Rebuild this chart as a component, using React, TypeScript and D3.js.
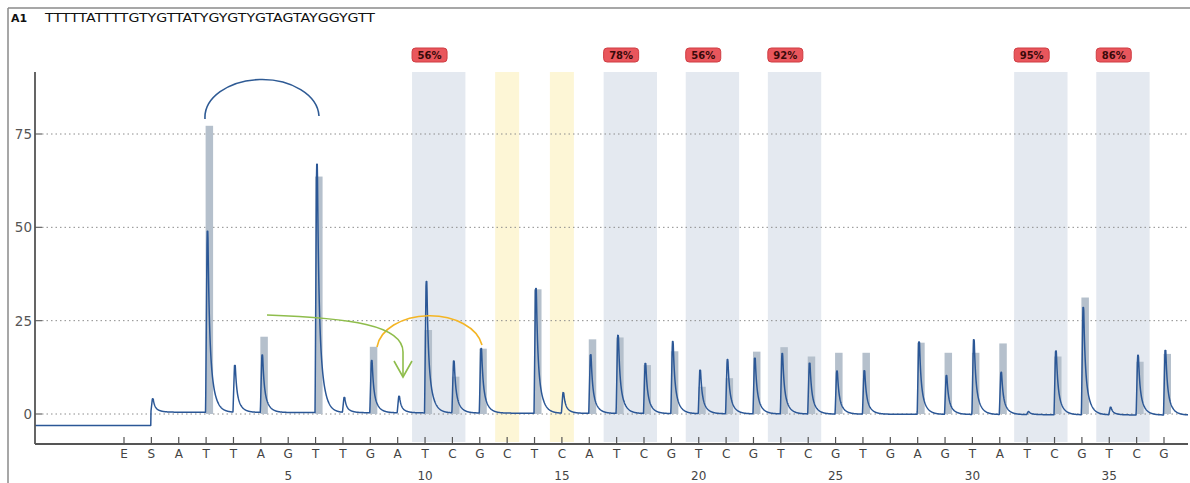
import React from 'react';
import * as d3 from 'd3';

// Dispensation order (E, S, then numbered dispensations 1..37)
const dispensations = ['E', 'S', 'A', 'T', 'T', 'A', 'G', 'T', 'T', 'G', 'A', 'T', 'C', 'G', 'C', 'T', 'C', 'A', 'T', 'C', 'G', 'T', 'C', 'G', 'T', 'C', 'G', 'T', 'G', 'A', 'G', 'T', 'A', 'T', 'C', 'G', 'T', 'C', 'G'];
// Measured peak heights (blue trace)
const observed = [0, 3.6, 0, 48.5, 12.5, 15.4, 0, 66.5, 4.0, 14, 4.4, 35.2, 13.9, 17.3, 0, 33.4, 5.5, 15.7, 20.9, 13.4, 19.3, 11.6, 14.5, 14.9, 16.2, 13.6, 11.5, 11.6, 0, 19.4, 10.4, 20, 11.3, 0.8, 17.1, 28.7, 2.0, 16, 17.3];
// Expected histogram bars (grey), 0 = no bar
const expected = [0, 0, 0, 77.2, 0, 20.7, 0, 63.6, 0, 18, 0, 22.5, 10, 17.5, 0, 33.4, 0, 20, 20.5, 13.1, 16.8, 7.3, 9.6, 16.7, 17.9, 15.4, 16.4, 16.4, 0, 19.1, 16.4, 16.4, 18.9, 0, 15.4, 31.2, 0, 14, 16.1];

// CpG variable positions (index into dispensations) and methylation %
const cpgStart = [11, 18, 21, 24, 33, 36];
const cpgPercent = ['56%', '78%', '56%', '92%', '95%', '86%'];
// bisulfite control positions
const controlPos = [14, 16];

const yTicks = [0, 25, 50, 75];
const numberTicks = [5, 10, 15, 20, 25, 30, 35];
const sequence = 'TTTTTATTTTGTYGTTATYGYGTYGTAGTAYGGYGTT';
const preStartLevel = -3.1;
const baselineEnds = [0.5, -0.3];

const W = 1190;
const H = 483;
const font = '"DejaVu Sans", Verdana, sans-serif';

const App: React.FC = () => {
  const x = d3.scaleLinear().domain([0, 38]).range([124, 1164]);
  const y = d3.scaleLinear().domain([0, 75]).range([414, 134]);
  const axisLeft = 35;
  const axisRight = 1188;
  const axisY = 444;
  const plotTop = 72;

  const baseline = d3.scaleLinear().domain([x(1), axisRight]).range(baselineEnds);

  // peak shape: sharp rise, short top, fast drop then slow tail
  const shape = (d: number) => {
    if (d < -1.5) return 0;
    if (d < 0) return (d + 1.5) / 1.5;
    if (d < 0.8) return 1;
    const e = d - 0.8;
    return 0.5 * Math.exp(-e / 1.3) + 0.5 * Math.exp(-e / 4.5);
  };

  const pts: [number, number][] = [];
  for (let px = axisLeft; px <= axisRight; px += 0.25) {
    let v = px < x(1) - 0.5 ? preStartLevel : baseline(px);
    observed.forEach((h, k) => {
      if (h > 0) v += h * shape(px - (x(k) + 1));
    });
    pts.push([px, y(v)]);
  }
  const line = d3.line<[number, number]>().x(d => d[0]).y(d => d[1]);

  const half = 13;

  return (
    <div style={{ position: 'absolute', left: 0, top: 0 }}>
      <svg width={W} height={H} style={{ display: 'block', background: '#fff' }}>
        {/* frame */}
        <line x1={8} y1={8} x2={W} y2={8} stroke="#8a8a8a" strokeWidth={1.5} />
        <line x1={8} y1={8} x2={8} y2={H} stroke="#8a8a8a" strokeWidth={1.5} />

        {/* header */}
        <text x={11} y={22} fontFamily={font} fontSize={11} fontWeight="bold" fill="#111">A1</text>
        <text x={45} y={22} fontFamily={font} fontSize={11.5} fill="#111" textLength={330} lengthAdjust="spacingAndGlyphs">{sequence}</text>

        {/* shaded positions */}
        {controlPos.map(k => (
          <rect key={'c' + k} x={x(k) - 12} y={plotTop} width={24} height={axisY - 2 - plotTop} fill="#fdf6d6" />
        ))}
        {cpgStart.map((k, i) => (
          <g key={'p' + k}>
            <rect x={x(k) - half} y={plotTop} width={x(k + 1) - x(k) + 2 * half} height={axisY - 2 - plotTop} fill="#e4e9f0" />
            <rect x={x(k) - half} y={48} width={35} height={14} rx={3.5} fill="#e9565c" stroke="#cf3c42" strokeWidth={1} />
            <text x={x(k) - half + 17.5} y={58.5} textAnchor="middle" fontFamily={font} fontSize={10} fontWeight="bold" fill="#3a0a0a">{cpgPercent[i]}</text>
          </g>
        ))}

        {/* grid */}
        {yTicks.map(t => (
          <g key={'g' + t}>
            <line x1={axisLeft + 7} x2={axisRight} y1={y(t)} y2={y(t)} stroke="#8c8c8c" strokeDasharray="1.5,3" strokeWidth={1} />
            <line x1={axisLeft} x2={axisLeft + 7} y1={y(t)} y2={y(t)} stroke="#666" strokeWidth={1.2} />
            <text x={32} y={y(t) + 5} textAnchor="end" fontFamily={font} fontSize={13.5} fill="#555">{t}</text>
          </g>
        ))}

        {/* expected histogram bars */}
        {expected.map((v, k) => v > 0 ? (
          <rect key={'b' + k} x={x(k) - 0.5} y={y(v)} width={7.5} height={y(0) - y(v)} fill="#b5c0cc" />
        ) : null)}

        {/* trace */}
        <path d={line(pts) || ''} fill="none" stroke="#2b5796" strokeWidth={1.5} strokeLinejoin="round" />

        {/* axes */}
        <line x1={axisLeft} x2={axisLeft} y1={plotTop} y2={axisY} stroke="#555" strokeWidth={1.8} />
        <line x1={axisLeft} x2={axisRight} y1={axisY} y2={axisY} stroke="#555" strokeWidth={2} />
        {dispensations.map((d, k) => (
          <g key={'t' + k}>
            <line x1={x(k)} x2={x(k)} y1={axisY - 7} y2={axisY} stroke="#555" strokeWidth={1.2} />
            <text x={x(k)} y={458} textAnchor="middle" fontFamily={font} fontSize={12} fill="#444">{d}</text>
          </g>
        ))}
        {numberTicks.map(n => (
          <text key={'n' + n} x={x(n + 1)} y={480} textAnchor="middle" fontFamily={font} fontSize={12} fill="#444">{n}</text>
        ))}

        {/* annotations */}
        <path d="M205,119 A57,38 0 0 1 319,116" fill="none" stroke="#2e5a94" strokeWidth={1.6} />
        <path d="M377,347 A53,35 0 0 1 482,345" fill="none" stroke="#f4b524" strokeWidth={1.6} />
        <path d="M267,315 C350,318 403,325 403,352 L403,377" fill="none" stroke="#8fbd4c" strokeWidth={1.6} />
        <path d="M394,361 L403,377 L412,361" fill="none" stroke="#8fbd4c" strokeWidth={1.6} />
      </svg>
    </div>
  );
};

export default App;
